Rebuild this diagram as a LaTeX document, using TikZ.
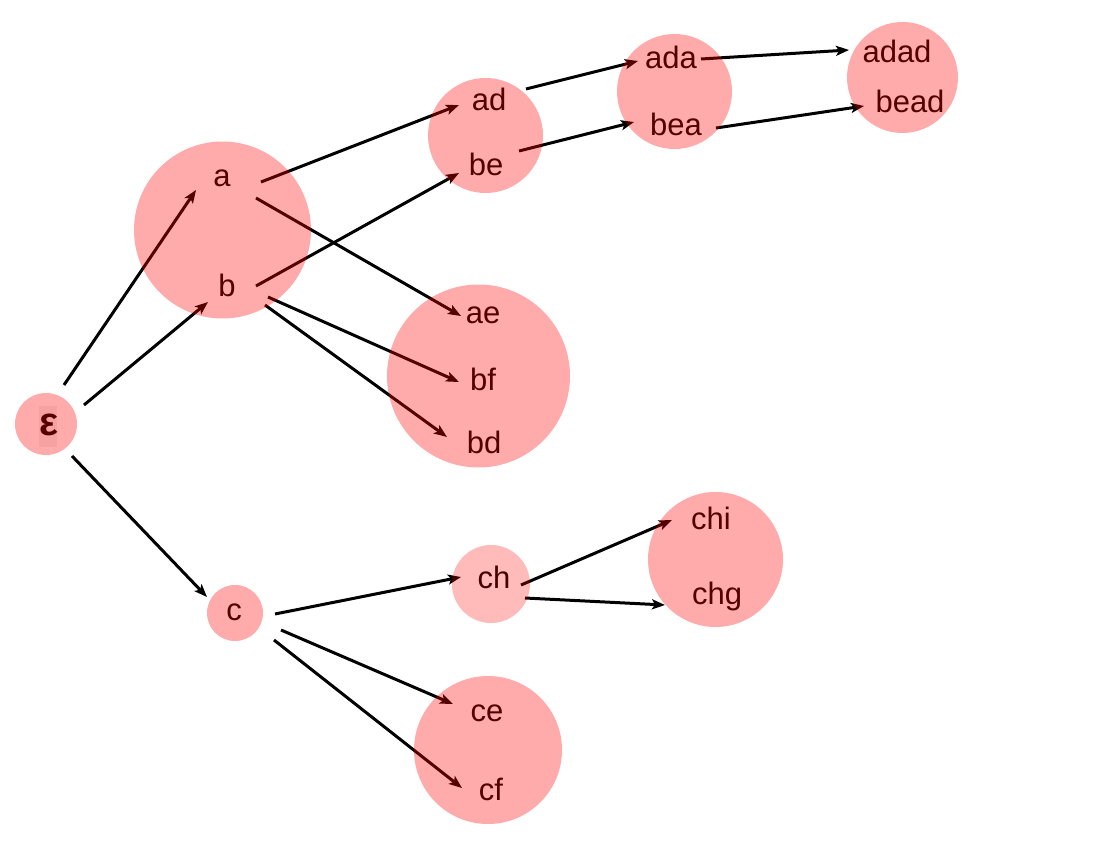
\documentclass[tikz,border=0pt]{standalone}
\usepackage{fontspec}
\setmainfont{Liberation Sans}
\usetikzlibrary{arrows.meta}
\begin{document}
\begin{tikzpicture}[x=1pt,y=-1pt,
  lbl/.style={anchor=base,inner sep=0pt,font=\fontsize{31}{36}\selectfont},
  edge/.style={line width=3pt,-{Stealth[length=13pt,width=10pt,inset=3pt]}},
  blob/.style={fill=red,fill opacity=0.33,draw=none},
  lightblob/.style={fill=red,fill opacity=0.27,draw=none}]
\useasboundingbox (0,0) rectangle (1094,843);
% labels
\node[lbl,font=\fontsize{40}{44}\selectfont\bfseries] (eps) at (49,435) {ε};
\node[lbl] (a) at (222,186) {a};
\node[lbl] (b) at (227,296) {b};
\node[lbl] (ad) at (489,110) {ad};
\node[lbl] (be) at (486,175) {be};
\node[lbl] (ae) at (483,323) {ae};
\node[lbl] (bf) at (483,390) {bf};
\node[lbl] (bd) at (484,453) {bd};
\node[lbl] (ada) at (671,69) {ada};
\node[lbl] (bea) at (676,135) {bea};
\node[lbl] (adad) at (897,63) {adad};
\node[lbl] (bead) at (910,112) {bead};
\node[lbl] (c) at (234,620) {c};
\node[lbl] (ch) at (494,588) {ch};
\node[lbl] (chi) at (711,529) {chi};
\node[lbl] (chg) at (717,604) {chg};
\node[lbl] (ce) at (487,721) {ce};
\node[lbl] (cf) at (491,800) {cf};
% edges
\draw[edge] ([shift={(15,-50)}]eps.base) -- ([shift={(-26,4)}]a.base);
\draw[edge] ([shift={(35,-30)}]eps.base) -- ([shift={(-19,6)}]b.base);
\draw[edge] ([shift={(23,21)}]eps.base) -- ([shift={(-27,-23)}]c.base);
\draw[edge] ([shift={(39,-4)}]a.base) -- ([shift={(-30,-5)}]ad.base);
\draw[edge] ([shift={(34,12)}]a.base) -- ([shift={(-22,-7)}]ae.base);
\draw[edge] ([shift={(29,-10)}]b.base) -- ([shift={(-27,-2)}]be.base);
\draw[edge] ([shift={(41,1)}]b.base) -- ([shift={(-24,-8)}]bf.base);
\draw[edge] ([shift={(38,9)}]b.base) -- ([shift={(-37,-16)}]bd.base);
\draw[edge] ([shift={(37,-21)}]ad.base) -- ([shift={(-33,-8)}]ada.base);
\draw[edge] ([shift={(33,-24)}]be.base) -- ([shift={(-42,-13)}]bea.base);
\draw[edge] ([shift={(30,-10)}]ada.base) -- ([shift={(-48,-13)}]adad.base);
\draw[edge] ([shift={(40,-7)}]bea.base) -- ([shift={(-46,-6)}]bead.base);
\draw[edge] ([shift={(41,-6)}]c.base) -- ([shift={(-33,-11)}]ch.base);
\draw[edge] ([shift={(47,10)}]c.base) -- ([shift={(-34,-17)}]ce.base);
\draw[edge] ([shift={(40,20)}]c.base) -- ([shift={(-29,-12)}]cf.base);
\draw[edge] ([shift={(27,-3)}]ch.base) -- ([shift={(-39,-9)}]chi.base);
\draw[edge] ([shift={(31,10)}]ch.base) -- ([shift={(-52,1)}]chg.base);
% translucent groups
\fill[black,fill opacity=0.05] (39,406) rectangle (57,447);
\fill[blob] (46,424) circle[radius=31];
\fill[blob] (222.5,230) circle[radius=88.5];
\fill[blob] (485.5,135.5) circle[radius=57.5];
\fill[blob] (478.5,376) circle[radius=91.5];
\fill[blob] (674.5,91.5) circle[radius=57.5];
\fill[blob] (902.5,77.5) circle[radius=55.5];
\fill[blob] (235,613) circle[radius=28];
\fill[lightblob] (491,584) circle[radius=39];
\fill[blob] (715.5,559.5) circle[radius=67.5];
\fill[blob] (488,750) circle[radius=74];
\end{tikzpicture}
\end{document}
